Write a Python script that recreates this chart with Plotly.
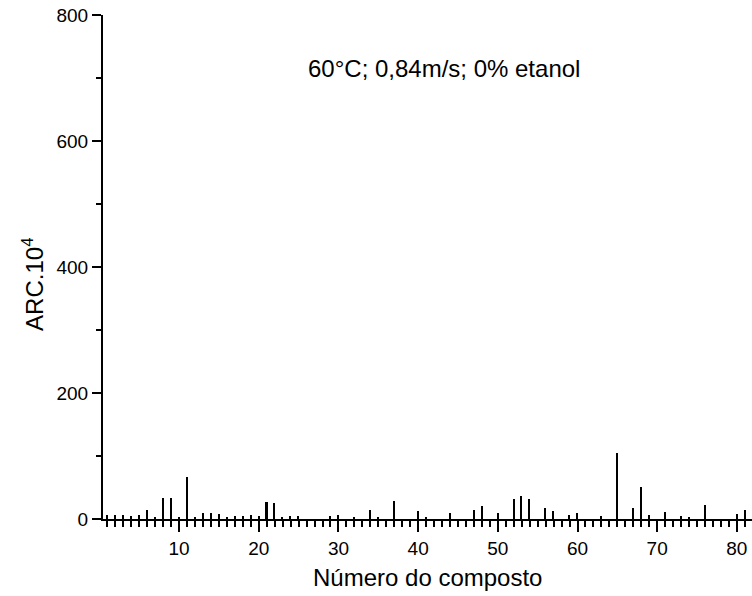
import plotly.graph_objects as go

compounds = [1, 2, 3, 4, 5, 6, 7, 8, 9, 10, 11, 12, 13, 14, 15, 16, 17, 18, 19, 20,
             21, 22, 23, 24, 25, 29, 30, 32, 34, 35, 37, 40, 41, 44, 47, 48, 50, 52,
             53, 54, 56, 57, 59, 60, 63, 65, 67, 68, 69, 71, 73, 74, 76, 80, 81]
arc_values = [6, 6, 6, 4, 6, 14, 3, 34, 34, 3, 66, 3, 9, 9, 8, 2, 4, 4, 7, 5,
              27, 25, 3, 4, 4, 4, 7, 3, 15, 3, 28, 13, 2, 9, 14, 21, 10, 32,
              36, 31, 17, 13, 7, 10, 5, 104, 17, 51, 6, 11, 4, 3, 22, 8, 14]
x_ticks = [10, 20, 30, 40, 50, 60, 70, 80]
y_ticks = [0, 200, 400, 600, 800]
annotation_text = "60°C; 0,84m/s; 0% etanol"
x_title = "Número do composto"
y_title = "ARC.10<sup>4</sup>"

FONT = "Arial, Liberation Sans, sans-serif"

fig = go.Figure()
fig.add_trace(go.Bar(x=compounds, y=arc_values, width=0.19,
                     marker=dict(color="black", line=dict(width=0)),
                     showlegend=False, hoverinfo="skip"))

fig.update_layout(
    width=752, height=596,
    margin=dict(l=103, r=0, t=15, b=77),
    plot_bgcolor="white", paper_bgcolor="white",
    font=dict(family=FONT, color="black", size=19),
    bargap=0,
)
fig.update_xaxes(
    range=[0.45, 81.9], showgrid=False, zeroline=False,
    showline=True, linecolor="black", linewidth=2,
    tickmode="array", tickvals=x_ticks, ticktext=[str(v) for v in x_ticks],
    ticks="outside", ticklen=11, tickwidth=2, tickcolor="black",
    tickfont=dict(size=19, family=FONT, color="black"),
    minor=dict(dtick=1, tick0=0, ticks="outside", ticklen=6, tickwidth=2,
               tickcolor="black", showgrid=False),
)
fig.update_yaxes(
    range=[0, 800], showgrid=False, zeroline=False,
    showline=True, linecolor="black", linewidth=2,
    tickmode="array", tickvals=y_ticks, ticktext=[str(v) for v in y_ticks],
    ticks="outside", ticklen=9, tickwidth=2, tickcolor="black",
    tickfont=dict(size=19, family=FONT, color="black"),
    minor=dict(dtick=100, tick0=0, ticks="outside", ticklen=5, tickwidth=2,
               tickcolor="black", showgrid=False),
)

fig.add_annotation(text=annotation_text, xref="paper", yref="paper",
                   x=0.525, y=0.893, xanchor="center", yanchor="middle",
                   showarrow=False, font=dict(size=24, family=FONT, color="black"))
fig.add_annotation(text=x_title, xref="paper", yref="paper",
                   x=0.5, y=-0.117, xanchor="center", yanchor="middle",
                   showarrow=False, font=dict(size=24, family=FONT, color="black"))
fig.add_annotation(text=y_title, xref="paper", yref="paper",
                   x=-0.109, y=0.465, xanchor="center", yanchor="middle",
                   textangle=-90, showarrow=False,
                   font=dict(size=24, family=FONT, color="black"))

fig.write_html(
    "out.html",
    config={"displayModeBar": False},
    post_script="document.body.style.margin='0';document.body.style.overflow='hidden';",
)
